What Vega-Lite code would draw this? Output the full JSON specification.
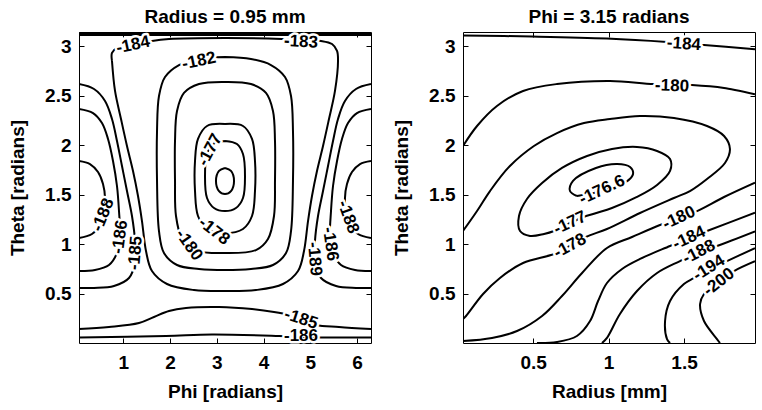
{
"$schema": "https://vega.github.io/schema/vega-lite/v6.json",
"background": "white",
"padding": {"left": 8, "top": 7, "right": 2, "bottom": 2},
"spacing": 20,
"config": {
  "font": "Liberation Sans",
  "view": {"stroke": "black", "strokeWidth": 1},
  "axis": {"grid": false, "domain": false, "tickColor": "black", "tickSize": -5, "tickWidth": 1, "labelFontSize": 19, "labelFontWeight": "bold", "labelColor": "black", "titleFontSize": 19, "titleFontWeight": "bold", "titleColor": "black", "labelFont": "Liberation Sans", "titleFont": "Liberation Sans"},
  "axisX": {"labelPadding": 15, "titlePadding": 10},
  "axisY": {"labelPadding": 13, "titlePadding": 17},
  "title": {"fontSize": 19, "fontWeight": "bold", "font": "Liberation Sans", "color": "black", "offset": 5}
},
"datasets": {
  "la": [
    {"c":1,"x":3.175,"y":1.768},{"c":1,"x":3.303,"y":1.738},{"c":1,"x":3.368,"y":1.637},{"c":1,"x":3.303,"y":1.535},{"c":1,"x":3.175,"y":1.505},{"c":1,"x":3.047,"y":1.535},{"c":1,"x":2.982,"y":1.637},{"c":1,"x":3.047,"y":1.738},{"c":1,"x":3.175,"y":1.768},
    {"c":2,"x":3.175,"y":2.041},{"c":2,"x":2.918,"y":2.010},{"c":2,"x":2.790,"y":1.909},{"c":2,"x":2.747,"y":1.687},{"c":2,"x":2.790,"y":1.465},{"c":2,"x":2.940,"y":1.364},{"c":2,"x":3.175,"y":1.333},{"c":2,"x":3.410,"y":1.364},{"c":2,"x":3.560,"y":1.465},{"c":2,"x":3.603,"y":1.687},{"c":2,"x":3.560,"y":1.909},{"c":2,"x":3.431,"y":2.010},{"c":2,"x":3.175,"y":2.041},
    {"c":3,"x":3.175,"y":2.212},{"c":3,"x":2.790,"y":2.192},{"c":3,"x":2.597,"y":2.061},{"c":3,"x":2.533,"y":1.839},{"c":3,"x":2.533,"y":1.535},{"c":3,"x":2.597,"y":1.283},{"c":3,"x":2.790,"y":1.152},{"c":3,"x":3.175,"y":1.111},{"c":3,"x":3.560,"y":1.152},{"c":3,"x":3.753,"y":1.283},{"c":3,"x":3.817,"y":1.535},{"c":3,"x":3.817,"y":1.839},{"c":3,"x":3.753,"y":2.061},{"c":3,"x":3.560,"y":2.192},{"c":3,"x":3.175,"y":2.212},
    {"c":4,"x":3.175,"y":2.637},{"c":4,"x":2.618,"y":2.616},{"c":4,"x":2.297,"y":2.526},{"c":4,"x":2.148,"y":2.344},{"c":4,"x":2.105,"y":2.041},{"c":4,"x":2.105,"y":1.637},{"c":4,"x":2.126,"y":1.283},{"c":4,"x":2.255,"y":1.051},{"c":4,"x":2.511,"y":0.939},{"c":4,"x":3.175,"y":0.909},{"c":4,"x":3.838,"y":0.939},{"c":4,"x":4.095,"y":1.051},{"c":4,"x":4.224,"y":1.283},{"c":4,"x":4.245,"y":1.637},{"c":4,"x":4.245,"y":2.041},{"c":4,"x":4.202,"y":2.344},{"c":4,"x":4.052,"y":2.526},{"c":4,"x":3.731,"y":2.616},{"c":4,"x":3.175,"y":2.637},
    {"c":5,"x":3.175,"y":2.889},{"c":5,"x":2.618,"y":2.869},{"c":5,"x":2.190,"y":2.808},{"c":5,"x":1.891,"y":2.687},{"c":5,"x":1.762,"y":2.495},{"c":5,"x":1.720,"y":2.141},{"c":5,"x":1.720,"y":1.637},{"c":5,"x":1.762,"y":1.131},{"c":5,"x":1.869,"y":0.909},{"c":5,"x":2.148,"y":0.788},{"c":5,"x":2.618,"y":0.748},{"c":5,"x":3.175,"y":0.737},{"c":5,"x":3.731,"y":0.748},{"c":5,"x":4.202,"y":0.788},{"c":5,"x":4.481,"y":0.909},{"c":5,"x":4.588,"y":1.131},{"c":5,"x":4.630,"y":1.637},{"c":5,"x":4.630,"y":2.141},{"c":5,"x":4.588,"y":2.495},{"c":5,"x":4.459,"y":2.687},{"c":5,"x":4.159,"y":2.808},{"c":5,"x":3.731,"y":2.869},{"c":5,"x":3.175,"y":2.889},
    {"c":6,"x":0.756,"y":2.849},{"c":6,"x":0.821,"y":2.546},{"c":6,"x":0.949,"y":2.263},{"c":6,"x":1.077,"y":1.990},{"c":6,"x":1.206,"y":1.738},{"c":6,"x":1.313,"y":1.485},{"c":6,"x":1.398,"y":1.232},{"c":6,"x":1.484,"y":0.929},{"c":6,"x":1.612,"y":0.727},{"c":6,"x":1.934,"y":0.596},{"c":6,"x":2.511,"y":0.535},{"c":6,"x":3.175,"y":0.525},{"c":6,"x":3.838,"y":0.535},{"c":6,"x":4.416,"y":0.596},{"c":6,"x":4.738,"y":0.727},{"c":6,"x":4.866,"y":0.929},{"c":6,"x":4.952,"y":1.232},{"c":6,"x":5.037,"y":1.485},{"c":6,"x":5.144,"y":1.738},{"c":6,"x":5.273,"y":1.990},{"c":6,"x":5.401,"y":2.263},{"c":6,"x":5.529,"y":2.546},{"c":6,"x":5.594,"y":2.849},{"c":6,"x":5.573,"y":2.950},{"c":6,"x":5.466,"y":3.020},{"c":6,"x":5.230,"y":3.051},{"c":6,"x":4.802,"y":3.061},{"c":6,"x":4.395,"y":3.071},{"c":6,"x":3.175,"y":3.081},{"c":6,"x":1.976,"y":3.071},{"c":6,"x":1.612,"y":3.051},{"c":6,"x":1.206,"y":3.010},{"c":6,"x":0.863,"y":2.980},{"c":6,"x":0.756,"y":2.930},{"c":6,"x":0.756,"y":2.849},
    {"c":7,"x":0.050,"y":2.616},{"c":7,"x":0.371,"y":2.566},{"c":7,"x":0.607,"y":2.445},{"c":7,"x":0.756,"y":2.263},{"c":7,"x":0.863,"y":2.041},{"c":7,"x":0.970,"y":1.788},{"c":7,"x":1.077,"y":1.535},{"c":7,"x":1.184,"y":1.283},{"c":7,"x":1.249,"y":1.030},{"c":7,"x":1.249,"y":0.808},{"c":7,"x":1.120,"y":0.657},{"c":7,"x":0.799,"y":0.576},{"c":7,"x":0.371,"y":0.556},{"c":7,"x":0.050,"y":0.556},
    {"c":8,"x":6.300,"y":2.616},{"c":8,"x":5.979,"y":2.566},{"c":8,"x":5.743,"y":2.445},{"c":8,"x":5.594,"y":2.263},{"c":8,"x":5.487,"y":2.041},{"c":8,"x":5.380,"y":1.788},{"c":8,"x":5.273,"y":1.535},{"c":8,"x":5.166,"y":1.283},{"c":8,"x":5.101,"y":1.030},{"c":8,"x":5.101,"y":0.808},{"c":8,"x":5.230,"y":0.657},{"c":8,"x":5.552,"y":0.576},{"c":8,"x":5.979,"y":0.556},{"c":8,"x":6.300,"y":0.556},
    {"c":9,"x":0.050,"y":2.364},{"c":9,"x":0.350,"y":2.323},{"c":9,"x":0.542,"y":2.222},{"c":9,"x":0.671,"y":2.061},{"c":9,"x":0.778,"y":1.839},{"c":9,"x":0.863,"y":1.586},{"c":9,"x":0.906,"y":1.333},{"c":9,"x":0.928,"y":1.081},{"c":9,"x":0.863,"y":0.909},{"c":9,"x":0.692,"y":0.788},{"c":9,"x":0.392,"y":0.737},{"c":9,"x":0.050,"y":0.727},
    {"c":10,"x":6.300,"y":2.364},{"c":10,"x":6.000,"y":2.323},{"c":10,"x":5.808,"y":2.222},{"c":10,"x":5.679,"y":2.061},{"c":10,"x":5.573,"y":1.839},{"c":10,"x":5.487,"y":1.586},{"c":10,"x":5.444,"y":1.333},{"c":10,"x":5.423,"y":1.081},{"c":10,"x":5.487,"y":0.909},{"c":10,"x":5.658,"y":0.788},{"c":10,"x":5.958,"y":0.737},{"c":10,"x":6.300,"y":0.727},
    {"c":11,"x":0.050,"y":1.839},{"c":11,"x":0.285,"y":1.808},{"c":11,"x":0.457,"y":1.727},{"c":11,"x":0.564,"y":1.606},{"c":11,"x":0.607,"y":1.465},{"c":11,"x":0.585,"y":1.323},{"c":11,"x":0.499,"y":1.192},{"c":11,"x":0.328,"y":1.101},{"c":11,"x":0.050,"y":1.061},
    {"c":12,"x":6.300,"y":1.839},{"c":12,"x":6.065,"y":1.808},{"c":12,"x":5.893,"y":1.727},{"c":12,"x":5.786,"y":1.606},{"c":12,"x":5.743,"y":1.465},{"c":12,"x":5.765,"y":1.323},{"c":12,"x":5.850,"y":1.192},{"c":12,"x":6.022,"y":1.101},{"c":12,"x":6.300,"y":1.061},
    {"c":13,"x":0.050,"y":0.141},{"c":13,"x":0.692,"y":0.162},{"c":13,"x":1.334,"y":0.202},{"c":13,"x":1.655,"y":0.263},{"c":13,"x":1.976,"y":0.323},{"c":13,"x":2.340,"y":0.354},{"c":13,"x":3.047,"y":0.364},{"c":13,"x":3.753,"y":0.343},{"c":13,"x":4.224,"y":0.313},{"c":13,"x":4.545,"y":0.283},{"c":13,"x":4.802,"y":0.242},{"c":13,"x":5.123,"y":0.182},{"c":13,"x":5.615,"y":0.162},{"c":13,"x":6.300,"y":0.141},
    {"c":14,"x":0.050,"y":0.056},{"c":14,"x":1.912,"y":0.071},{"c":14,"x":2.897,"y":0.086},{"c":14,"x":4.331,"y":0.071},{"c":14,"x":5.123,"y":0.056},{"c":14,"x":6.300,"y":0.056},
    {"c":15,"x":0.050,"y":3.130},{"c":15,"x":6.300,"y":3.130},
    {"c":16,"x":0.050,"y":3.112},{"c":16,"x":6.300,"y":3.112}
  ],
  "ra": [
    {"c":1,"x":0.035,"y":3.106},{"c":1,"x":0.492,"y":3.096},{"c":1,"x":0.989,"y":3.076},{"c":1,"x":1.387,"y":3.041},{"c":1,"x":1.632,"y":3.010},{"c":1,"x":1.970,"y":2.968},
    {"c":2,"x":0.035,"y":1.990},{"c":2,"x":0.128,"y":2.192},{"c":2,"x":0.260,"y":2.394},{"c":2,"x":0.433,"y":2.546},{"c":2,"x":0.658,"y":2.616},{"c":2,"x":1.009,"y":2.647},{"c":2,"x":1.301,"y":2.616},{"c":2,"x":1.552,"y":2.606},{"c":2,"x":1.765,"y":2.576},{"c":2,"x":1.970,"y":2.513},
    {"c":3,"x":0.035,"y":1.131},{"c":3,"x":0.128,"y":1.333},{"c":3,"x":0.214,"y":1.535},{"c":3,"x":0.346,"y":1.788},{"c":3,"x":0.505,"y":1.990},{"c":3,"x":0.658,"y":2.121},{"c":3,"x":0.837,"y":2.222},{"c":3,"x":1.009,"y":2.263},{"c":3,"x":1.208,"y":2.293},{"c":3,"x":1.433,"y":2.273},{"c":3,"x":1.652,"y":2.192},{"c":3,"x":1.765,"y":2.091},{"c":3,"x":1.804,"y":1.960},{"c":3,"x":1.771,"y":1.818},{"c":3,"x":1.652,"y":1.657},{"c":3,"x":1.539,"y":1.535},{"c":3,"x":1.433,"y":1.465},{"c":3,"x":1.208,"y":1.313},{"c":3,"x":0.989,"y":1.152},{"c":3,"x":0.850,"y":1.071},{"c":3,"x":0.744,"y":0.980},{"c":3,"x":0.638,"y":0.899},{"c":3,"x":0.433,"y":0.808},{"c":3,"x":0.280,"y":0.657},{"c":3,"x":0.168,"y":0.495},{"c":3,"x":0.055,"y":0.273},{"c":3,"x":0.035,"y":0.242},
    {"c":4,"x":0.850,"y":1.283},{"c":4,"x":1.022,"y":1.364},{"c":4,"x":1.188,"y":1.475},{"c":4,"x":1.321,"y":1.596},{"c":4,"x":1.407,"y":1.738},{"c":4,"x":1.407,"y":1.859},{"c":4,"x":1.321,"y":1.940},{"c":4,"x":1.188,"y":1.980},{"c":4,"x":1.022,"y":1.960},{"c":4,"x":0.857,"y":1.889},{"c":4,"x":0.691,"y":1.768},{"c":4,"x":0.559,"y":1.616},{"c":4,"x":0.459,"y":1.455},{"c":4,"x":0.406,"y":1.283},{"c":4,"x":0.413,"y":1.131},{"c":4,"x":0.479,"y":1.081},{"c":4,"x":0.572,"y":1.101},{"c":4,"x":0.638,"y":1.131},{"c":4,"x":0.744,"y":1.212},{"c":4,"x":0.850,"y":1.283},
    {"c":5,"x":0.790,"y":1.485},{"c":5,"x":0.744,"y":1.535},{"c":5,"x":0.764,"y":1.637},{"c":5,"x":0.916,"y":1.768},{"c":5,"x":1.056,"y":1.808},{"c":5,"x":1.142,"y":1.778},{"c":5,"x":1.162,"y":1.707},{"c":5,"x":1.115,"y":1.626},{"c":5,"x":0.956,"y":1.535},{"c":5,"x":0.790,"y":1.485},
    {"c":6,"x":0.035,"y":0.020},{"c":6,"x":0.227,"y":0.051},{"c":6,"x":0.393,"y":0.121},{"c":6,"x":0.559,"y":0.273},{"c":6,"x":0.691,"y":0.475},{"c":6,"x":0.824,"y":0.707},{"c":6,"x":0.989,"y":0.960},{"c":6,"x":1.155,"y":1.071},{"c":6,"x":1.340,"y":1.192},{"c":6,"x":1.466,"y":1.263},{"c":6,"x":1.586,"y":1.333},{"c":6,"x":1.765,"y":1.475},{"c":6,"x":1.970,"y":1.620},
    {"c":7,"x":0.525,"y":0.000},{"c":7,"x":0.658,"y":0.010},{"c":7,"x":0.790,"y":0.071},{"c":7,"x":0.877,"y":0.222},{"c":7,"x":0.930,"y":0.424},{"c":7,"x":0.989,"y":0.606},{"c":7,"x":1.089,"y":0.748},{"c":7,"x":1.208,"y":0.849},{"c":7,"x":1.407,"y":0.980},{"c":7,"x":1.533,"y":1.061},{"c":7,"x":1.652,"y":1.131},{"c":7,"x":1.970,"y":1.316},
    {"c":8,"x":0.956,"y":0.000},{"c":8,"x":0.989,"y":0.051},{"c":8,"x":1.075,"y":0.293},{"c":8,"x":1.188,"y":0.525},{"c":8,"x":1.321,"y":0.707},{"c":8,"x":1.473,"y":0.828},{"c":8,"x":1.599,"y":0.919},{"c":8,"x":1.718,"y":0.980},{"c":8,"x":1.970,"y":1.128},
    {"c":9,"x":1.407,"y":0.000},{"c":9,"x":1.387,"y":0.040},{"c":9,"x":1.374,"y":0.222},{"c":9,"x":1.407,"y":0.424},{"c":9,"x":1.499,"y":0.596},{"c":9,"x":1.566,"y":0.657},{"c":9,"x":1.672,"y":0.748},{"c":9,"x":1.784,"y":0.828},{"c":9,"x":1.970,"y":0.958},
    {"c":10,"x":1.738,"y":0.000},{"c":10,"x":1.718,"y":0.040},{"c":10,"x":1.632,"y":0.222},{"c":10,"x":1.606,"y":0.394},{"c":10,"x":1.632,"y":0.495},{"c":10,"x":1.731,"y":0.626},{"c":10,"x":1.831,"y":0.727},{"c":10,"x":1.970,"y":0.826}
  ],
  "lt": [
    {"k":"a1","x":2.854,"y":1.950,"t":"-177"},
    {"k":"a2","x":2.940,"y":1.131,"t":"-178"},
    {"k":"a3","x":2.404,"y":0.990,"t":"-180"},
    {"k":"a4","x":2.618,"y":2.849,"t":"-182"},
    {"k":"a5","x":1.206,"y":3.010,"t":"-184"},
    {"k":"a6","x":4.802,"y":3.041,"t":"-183"},
    {"k":"a7","x":1.259,"y":0.909,"t":"-185"},
    {"k":"a8","x":0.928,"y":1.071,"t":"-186"},
    {"k":"a9","x":0.564,"y":1.293,"t":"-188"},
    {"k":"a10","x":5.091,"y":0.849,"t":"-189"},
    {"k":"a11","x":5.430,"y":1.000,"t":"-186"},
    {"k":"a12","x":5.808,"y":1.273,"t":"-188"},
    {"k":"a13","x":4.802,"y":0.242,"t":"-185"},
    {"k":"a14","x":4.802,"y":0.071,"t":"-186"}
  ],
  "rt": [
    {"k":"b1","x":1.499,"y":3.020,"t":"-184"},
    {"k":"b2","x":1.420,"y":2.596,"t":"-180"},
    {"k":"b3","x":0.956,"y":1.546,"t":"-176.6"},
    {"k":"b4","x":0.744,"y":1.212,"t":"-177"},
    {"k":"b5","x":0.744,"y":0.980,"t":"-178"},
    {"k":"b6","x":1.466,"y":1.263,"t":"-180"},
    {"k":"b7","x":1.533,"y":1.061,"t":"-184"},
    {"k":"b8","x":1.599,"y":0.919,"t":"-188"},
    {"k":"b9","x":1.665,"y":0.758,"t":"-194"},
    {"k":"b10","x":1.731,"y":0.616,"t":"-200"}
  ]
},
"resolve": {"scale": {"angle": "independent"}},
"hconcat": [
  {
    "width": 292, "height": 311,
    "title": "Radius = 0.95 mm",
    "resolve": {"axis": {"x": "independent", "y": "independent"}},
    "layer": [
      {"data": {"name": "la"},
       "mark": {"type": "line", "color": "black", "strokeWidth": 2, "interpolate": "catmull-rom", "clip": true},
       "encoding": {
         "x": {"field": "x", "type": "quantitative", "scale": {"domain": [0.05, 6.3], "nice": false, "zero": false}, "axis": {"title": "Phi [radians]", "values": [1,2,3,4,5,6], "format": "~g"}},
         "y": {"field": "y", "type": "quantitative", "scale": {"domain": [0, 3.1416], "nice": false, "zero": false}, "axis": {"title": "Theta [radians]", "values": [0.5,1,1.5,2,2.5,3], "format": "~g"}},
         "detail": {"field": "c", "type": "nominal"},
         "order": {"value": null}
       }},
      {"data": {"name": "la"},
       "mark": {"type": "line", "opacity": 0},
       "encoding": {
         "x": {"field": "x", "type": "quantitative", "axis": {"orient": "top", "labels": false, "title": null, "values": [1,2,3,4,5,6]}},
         "y": {"field": "y", "type": "quantitative", "axis": {"orient": "right", "labels": false, "title": null, "values": [0.5,1,1.5,2,2.5,3]}},
         "detail": {"field": "c", "type": "nominal"},
         "order": {"value": null}
       }},
      {"data": {"name": "lt"},
       "mark": {"type": "text", "fontSize": 17, "fontWeight": "bold", "fill": "white", "stroke": "white", "strokeWidth": 5, "strokeJoin": "round", "align": "center", "baseline": "middle"},
       "encoding": {
         "x": {"field": "x", "type": "quantitative", "axis": null},
         "y": {"field": "y", "type": "quantitative", "axis": null},
         "text": {"field": "t"},
         "angle": {"field": "k", "type": "nominal", "legend": null, "scale": {"type": "ordinal", "domain": ["a1","a2","a3","a4","a5","a6","a7","a8","a9","a10","a11","a12","a13","a14"], "range": [-62,38,55,-12,-12,3,-85,-82,-68,85,82,70,18,0]}}
       }},
      {"data": {"name": "lt"},
       "mark": {"type": "text", "fontSize": 17, "fontWeight": "bold", "fill": "black", "align": "center", "baseline": "middle"},
       "encoding": {
         "x": {"field": "x", "type": "quantitative", "axis": null},
         "y": {"field": "y", "type": "quantitative", "axis": null},
         "text": {"field": "t"},
         "angle": {"field": "k", "type": "nominal", "legend": null, "scale": {"type": "ordinal", "domain": ["a1","a2","a3","a4","a5","a6","a7","a8","a9","a10","a11","a12","a13","a14"], "range": [-62,38,55,-12,-12,3,-85,-82,-68,85,82,70,18,0]}}
       }}
    ]
  },
  {
    "width": 292, "height": 311,
    "title": "Phi = 3.15 radians",
    "resolve": {"axis": {"x": "independent", "y": "independent"}},
    "layer": [
      {"data": {"name": "ra"},
       "mark": {"type": "line", "color": "black", "strokeWidth": 2, "interpolate": "catmull-rom", "clip": true},
       "encoding": {
         "x": {"field": "x", "type": "quantitative", "scale": {"domain": [0.035, 1.97], "nice": false, "zero": false}, "axis": {"title": "Radius [mm]", "values": [0.5,1,1.5], "format": "~g"}},
         "y": {"field": "y", "type": "quantitative", "scale": {"domain": [0, 3.1416], "nice": false, "zero": false}, "axis": {"title": "Theta [radians]", "values": [0.5,1,1.5,2,2.5,3], "format": "~g"}},
         "detail": {"field": "c", "type": "nominal"},
         "order": {"value": null}
       }},
      {"data": {"name": "ra"},
       "mark": {"type": "line", "opacity": 0},
       "encoding": {
         "x": {"field": "x", "type": "quantitative", "axis": {"orient": "top", "labels": false, "title": null, "values": [0.5,1,1.5]}},
         "y": {"field": "y", "type": "quantitative", "axis": {"orient": "right", "labels": false, "title": null, "values": [0.5,1,1.5,2,2.5,3]}},
         "detail": {"field": "c", "type": "nominal"},
         "order": {"value": null}
       }},
      {"data": {"name": "rt"},
       "mark": {"type": "text", "fontSize": 17, "fontWeight": "bold", "fill": "white", "stroke": "white", "strokeWidth": 5, "strokeJoin": "round", "align": "center", "baseline": "middle"},
       "encoding": {
         "x": {"field": "x", "type": "quantitative", "axis": null},
         "y": {"field": "y", "type": "quantitative", "axis": null},
         "text": {"field": "t"},
         "angle": {"field": "k", "type": "nominal", "legend": null, "scale": {"type": "ordinal", "domain": ["b1","b2","b3","b4","b5","b6","b7","b8","b9","b10"], "range": [4,2,-25,-25,-28,-25,-25,-27,-32,-38]}}
       }},
      {"data": {"name": "rt"},
       "mark": {"type": "text", "fontSize": 17, "fontWeight": "bold", "fill": "black", "align": "center", "baseline": "middle"},
       "encoding": {
         "x": {"field": "x", "type": "quantitative", "axis": null},
         "y": {"field": "y", "type": "quantitative", "axis": null},
         "text": {"field": "t"},
         "angle": {"field": "k", "type": "nominal", "legend": null, "scale": {"type": "ordinal", "domain": ["b1","b2","b3","b4","b5","b6","b7","b8","b9","b10"], "range": [4,2,-25,-25,-28,-25,-25,-27,-32,-38]}}
       }}
    ]
  }
]
}
